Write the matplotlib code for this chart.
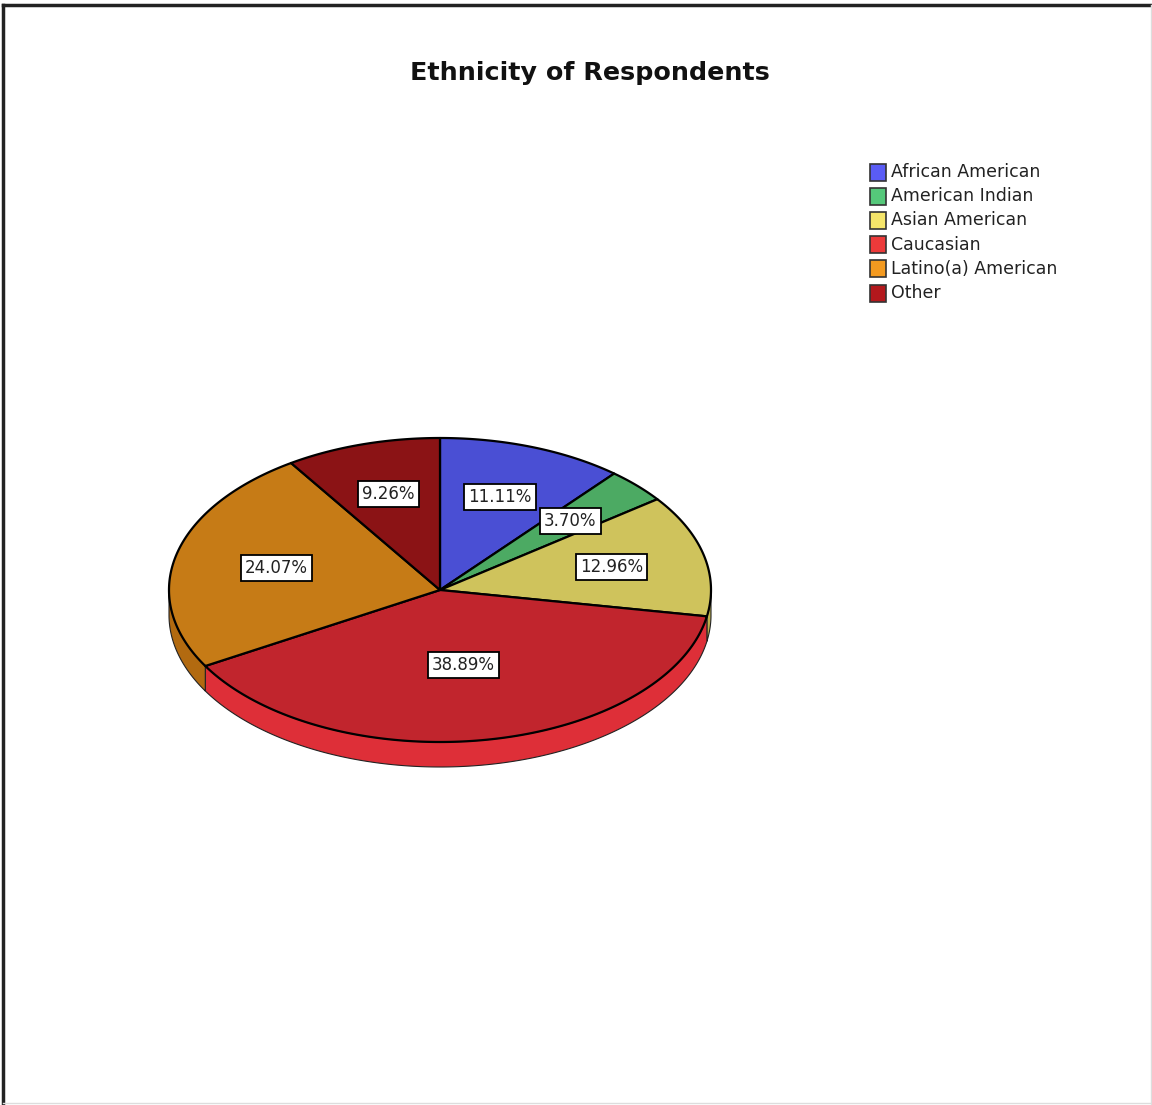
#!/usr/bin/env python3
import numpy as np
import matplotlib.pyplot as plt
from matplotlib.patches import Polygon, Rectangle

###########################################################################
# data
categories = ["African American", "American Indian", "Asian American",
              "Caucasian", "Latino(a) American", "Other"]
percents = [11.11, 3.70, 12.96, 38.89, 24.07, 9.26]

top_colors = ["#4a4fd4", "#4caa63", "#cfc35c", "#c1252d", "#c67b16", "#8b1315"]
side_colors = ["#3c40b0", "#3f9052", "#bdb24e", "#de2f38", "#b26a10", "#761012"]
legend_colors = ["#5a5cf5", "#55c87a", "#f5e56a", "#ec3a3a", "#f39a20", "#b3181c"]
label_r = [0.65, 0.66, 0.65, 0.50, 0.62, 0.66]

###########################################################################
W, H = 1152, 1105
cx, cy, rx, ry, depth = 440, 590, 271, 152, 25

fig = plt.figure(figsize=(W / 100, H / 100), dpi=100)
ax = fig.add_axes([0, 0, 1, 1])
ax.set_xlim(0, W)
ax.set_ylim(H, 0)
ax.axis("off")


def ell(t):
	return cx + rx * np.cos(t), cy - ry * np.sin(t)


fracs = np.array(percents) / np.sum(percents)
ends = 90 - 360 * np.cumsum(fracs)
starts = np.concatenate([[90], ends[:-1]])

# side walls (front half only)
for a0, a1, col in zip(starts, ends, side_colors):
	t = np.radians(np.linspace(a0, a1, 300))
	t = t[np.sin(t) <= 0]
	if len(t) < 2:
		continue
	x, y = ell(t)
	pts = np.concatenate([np.column_stack([x, y]),
	                      np.column_stack([x[::-1], y[::-1] + depth])])
	ax.add_patch(Polygon(pts, closed=True, fc=col, ec="#222222", lw=0.8))

# top faces
for a0, a1, col in zip(starts, ends, top_colors):
	t = np.radians(np.linspace(a0, a1, 300))
	x, y = ell(t)
	pts = np.concatenate([[[cx, cy]], np.column_stack([x, y])])
	ax.add_patch(Polygon(pts, closed=True, fc=col, ec="black", lw=1.6, joinstyle="round"))

# percentage labels
for a0, a1, p, f in zip(starts, ends, percents, label_r):
	tm = np.radians((a0 + a1) / 2)
	lx = cx + rx * f * np.cos(tm)
	ly = cy - ry * f * np.sin(tm)
	ax.text(lx, ly, f"{p:.2f}%", ha="center", va="center", fontsize=12,
	        color="#222222",
	        bbox=dict(boxstyle="square,pad=0.25", fc="white", ec="black", lw=1.3))

###########################################################################
# title
ax.text(590, 73, "Ethnicity of Respondents", ha="center", va="center",
        fontsize=18.3, fontweight="bold", color="#111111")

# legend
for i, (name, col) in enumerate(zip(categories, legend_colors)):
	yy = 172 + i * 24.2
	ax.add_patch(Rectangle((870, yy - 8.5), 16, 17, fc=col, ec="#333333", lw=1.2))
	ax.text(891, yy, name, ha="left", va="center", fontsize=12.5, color="#222222")

# frame
ax.plot([3, 3], [H, 5], color="#222222", lw=2.5)
ax.plot([3, W], [5, 5], color="#222222", lw=2.5)
ax.plot([W - 1, W - 1], [5, H], color="#dddddd", lw=1)
ax.plot([3, W], [H - 2, H - 2], color="#dddddd", lw=1)

fig.savefig("out.png", dpi=100)
plt.close()
